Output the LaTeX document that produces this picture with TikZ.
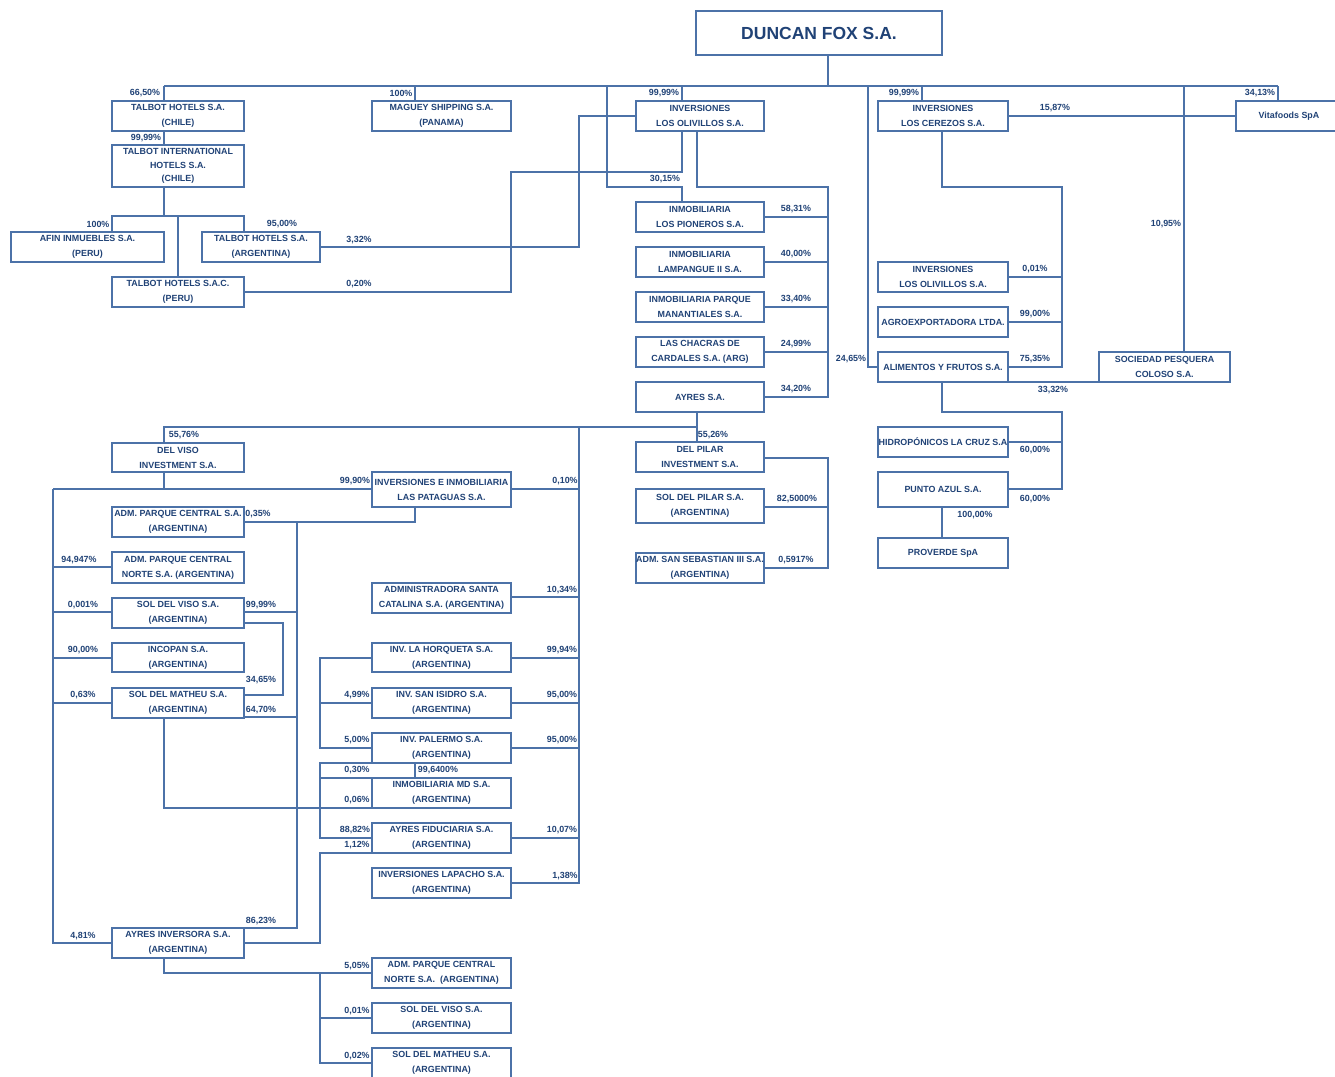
\documentclass[tikz,border=0pt]{standalone}
\usepackage{fontspec}
\setmainfont{Liberation Sans}
\definecolor{tc}{RGB}{32,66,118}
\definecolor{lc}{RGB}{76,114,168}
\newcommand\smallfnt{\bfseries\fontsize{8.9}{15}\selectfont}
\newcommand\bigfnt{\bfseries\fontsize{17.5}{20}\selectfont}
\newcommand\Bx[6]{\node[box,minimum width={#4-#2},minimum height={#5-#3}] (#1) at ({(#2+#4)/2},{(#3+#5)/2}) {#6};}
\newcommand\Pc[4]{\node[pct] (#1) at (#2,#3) {#4};}
\begin{document}
\begin{tikzpicture}[x=1pt,y=-1pt,
 box/.style={draw=lc, line width=1.3pt, inner sep=0pt, align=center, font=\smallfnt, text=tc},
 pct/.style={font=\smallfnt, text=tc, inner sep=0pt},
 ln/.style={draw=lc, line width=1.1pt}]
\clip (0,0) rectangle (1335,1076);
\fill[white] (0,0) rectangle (1335,1076);

% ---------- connectors ----------
\draw[ln] (828,55) -- (828,86);
\draw[ln] (164,86) -- (1278,86);
\draw[ln] (164,86) -- (164,101);
\draw[ln] (415,86) -- (415,101);
\draw[ln] (607,86) -- (607,187) -- (682,187) -- (682,202);
\draw[ln] (682,86) -- (682,101);
\draw[ln] (868,86) -- (868,367) -- (878,367);
\draw[ln] (922,86) -- (922,101);
\draw[ln] (1184,86) -- (1184,352);
\draw[ln] (1278,86) -- (1278,101);
\draw[ln] (1008,116) -- (1236,116);
\draw[ln] (164,131) -- (164,145);
\draw[ln] (164,187) -- (164,216);
\draw[ln] (112,232) -- (112,216) -- (244,216) -- (244,232);
\draw[ln] (178,216) -- (178,277);
\draw[ln] (320,247) -- (579,247) -- (579,116) -- (636,116);
\draw[ln] (244,292) -- (511,292) -- (511,172) -- (682,172) -- (682,131);
\draw[ln] (697,131) -- (697,187) -- (828,187) -- (828,397) -- (764,397);
\foreach \yy in {217,262,307,352} \draw[ln] (764,\yy) -- (828,\yy);
\draw[ln] (942,131) -- (942,187) -- (1062,187) -- (1062,367) -- (1008,367);
\foreach \yy in {277,322} \draw[ln] (1008,\yy) -- (1062,\yy);
\draw[ln] (1008,382) -- (1099,382);
\draw[ln] (942,382) -- (942,412) -- (1062,412) -- (1062,489) -- (1008,489);
\draw[ln] (1008,442) -- (1062,442);
\draw[ln] (942,507) -- (942,538);
\draw[ln] (697,412) -- (697,442);
\draw[ln] (164,443) -- (164,427) -- (697,427);
\draw[ln] (764,458) -- (828,458) -- (828,568) -- (764,568);
\draw[ln] (764,507) -- (828,507);
\draw[ln] (579,427) -- (579,883) -- (511,883);
\foreach \yy in {489,597,658,703,748,838} \draw[ln] (511,\yy) -- (579,\yy);
\draw[ln] (164,472) -- (164,489);
\draw[ln] (53,489) -- (372,489);
\draw[ln] (53,489) -- (53,943) -- (112,943);
\foreach \yy in {567,612,658,703} \draw[ln] (53,\yy) -- (112,\yy);
\draw[ln] (415,507) -- (415,522) -- (244,522);
\draw[ln] (297,522) -- (297,928) -- (244,928);
\foreach \yy in {612,717} \draw[ln] (244,\yy) -- (297,\yy);
\draw[ln] (244,623) -- (283,623) -- (283,695) -- (244,695);
\draw[ln] (164,718) -- (164,808) -- (372,808);
\draw[ln] (372,658) -- (320,658) -- (320,748) -- (372,748);
\draw[ln] (320,703) -- (372,703);
\draw[ln] (415,778) -- (415,763) -- (320,763) -- (320,838) -- (372,838);
\draw[ln] (320,778) -- (372,778);
\draw[ln] (244,943) -- (320,943) -- (320,853) -- (372,853);
\draw[ln] (164,958) -- (164,973) -- (372,973);
\draw[ln] (320,973) -- (320,1063) -- (372,1063);
\draw[ln] (320,1018) -- (372,1018);

% ---------- boxes ----------
\node[box,font=\bigfnt,minimum width=246,minimum height=44] (df) at (819,33) {DUNCAN FOX S.A.};
\Bx{thc}{112}{101}{244}{131}{TALBOT HOTELS S.A.\\(CHILE)}
\Bx{mag}{372}{101}{511}{131}{MAGUEY SHIPPING S.A.\\(PANAMA)}
\Bx{oli}{636}{101}{764}{131}{INVERSIONES\\LOS OLIVILLOS S.A.}
\Bx{cer}{878}{101}{1008}{131}{INVERSIONES\\LOS CEREZOS S.A.}
\Bx{vit}{1236}{101}{1342}{131}{Vitafoods SpA}
\node[box,minimum width=132,minimum height=42,font=\bfseries\fontsize{8.9}{13.5}\selectfont] (tint) at (178,166) {TALBOT INTERNATIONAL\\HOTELS S.A.\\(CHILE)};
\Bx{afin}{11}{232}{164}{262}{AFIN INMUEBLES S.A.\\(PERU)}
\Bx{tha}{202}{232}{320}{262}{TALBOT HOTELS S.A.\\(ARGENTINA)}
\Bx{tsac}{112}{277}{244}{307}{TALBOT HOTELS S.A.C.\\(PERU)}
\Bx{pio}{636}{202}{764}{232}{INMOBILIARIA\\LOS PIONEROS S.A.}
\Bx{lam}{636}{247}{764}{277}{INMOBILIARIA\\LAMPANGUE II S.A.}
\Bx{man}{636}{292}{764}{322}{INMOBILIARIA PARQUE\\MANANTIALES S.A.}
\Bx{cha}{636}{337}{764}{367}{LAS CHACRAS DE\\CARDALES S.A. (ARG)}
\Bx{ayr}{636}{382}{764}{412}{AYRES S.A.}
\Bx{oli2}{878}{262}{1008}{292}{INVERSIONES\\LOS OLIVILLOS S.A.}
\Bx{agr}{878}{307}{1008}{337}{AGROEXPORTADORA LTDA.}
\Bx{ali}{878}{352}{1008}{382}{ALIMENTOS Y FRUTOS S.A.}
\Bx{col}{1099}{352}{1230}{382}{SOCIEDAD PESQUERA\\COLOSO S.A.}
\Bx{hid}{878}{427}{1008}{457}{HIDROPÓNICOS LA CRUZ S.A}
\Bx{pun}{878}{472}{1008}{507}{PUNTO AZUL S.A.}
\Bx{pro}{878}{538}{1008}{568}{PROVERDE SpA}
\Bx{dpi}{636}{442}{764}{472}{DEL PILAR\\INVESTMENT S.A.}
\Bx{spi}{636}{489}{764}{523}{SOL DEL PILAR S.A.\\(ARGENTINA)}
\Bx{ass}{636}{553}{764}{583}{ADM. SAN SEBASTIAN III S.A.\\(ARGENTINA)}
\Bx{dvi}{112}{443}{244}{472}{DEL VISO\\INVESTMENT S.A.}
\Bx{pat}{372}{472}{511}{507}{INVERSIONES E INMOBILIARIA\\LAS PATAGUAS S.A.}
\Bx{apc}{112}{507}{244}{537}{ADM. PARQUE CENTRAL S.A.\\(ARGENTINA)}
\Bx{apn}{112}{552}{244}{583}{ADM. PARQUE CENTRAL\\NORTE S.A. (ARGENTINA)}
\Bx{sdv}{112}{598}{244}{628}{SOL DEL VISO S.A.\\(ARGENTINA)}
\Bx{inc}{112}{643}{244}{672}{INCOPAN S.A.\\(ARGENTINA)}
\Bx{sdm}{112}{688}{244}{718}{SOL DEL MATHEU S.A.\\(ARGENTINA)}
\Bx{ain}{112}{928}{244}{958}{AYRES INVERSORA S.A.\\(ARGENTINA)}
\Bx{stc}{372}{583}{511}{613}{ADMINISTRADORA SANTA\\CATALINA S.A. (ARGENTINA)}
\Bx{hor}{372}{643}{511}{672}{INV. LA HORQUETA S.A.\\(ARGENTINA)}
\Bx{sis}{372}{688}{511}{718}{INV. SAN ISIDRO S.A.\\(ARGENTINA)}
\Bx{pal}{372}{733}{511}{763}{INV. PALERMO S.A.\\(ARGENTINA)}
\Bx{imd}{372}{778}{511}{808}{INMOBILIARIA MD S.A.\\(ARGENTINA)}
\Bx{fid}{372}{823}{511}{853}{AYRES FIDUCIARIA S.A.\\(ARGENTINA)}
\Bx{lap}{372}{868}{511}{898}{INVERSIONES LAPACHO S.A.\\(ARGENTINA)}
\Bx{apn2}{372}{958}{511}{988}{ADM. PARQUE CENTRAL\\NORTE S.A.~~(ARGENTINA)}
\Bx{sdv2}{372}{1003}{511}{1033}{SOL DEL VISO S.A.\\(ARGENTINA)}
\Bx{sdm2}{372}{1048}{511}{1078}{SOL DEL MATHEU S.A.\\(ARGENTINA)}

% ---------- percentages ----------
\Pc{p1}{145}{93}{66,50\%}
\Pc{p2}{401}{93}{100\%}
\Pc{p3}{664}{93}{99,99\%}
\Pc{p4}{904}{93}{99,99\%}
\Pc{p5}{1260}{93}{34,13\%}
\Pc{p6}{146}{138}{99,99\%}
\Pc{p7}{98}{224}{100\%}
\Pc{p8}{282}{224}{95,00\%}
\Pc{p9}{359}{240}{3,32\%}
\Pc{p10}{359}{284}{0,20\%}
\Pc{p11}{665}{179}{30,15\%}
\Pc{p12}{796}{209}{58,31\%}
\Pc{p13}{796}{254}{40,00\%}
\Pc{p14}{796}{299}{33,40\%}
\Pc{p15}{796}{344}{24,99\%}
\Pc{p16}{796}{389}{34,20\%}
\Pc{p17}{851}{359}{24,65\%}
\Pc{p18}{1055}{108}{15,87\%}
\Pc{p19}{1166}{224}{10,95\%}
\Pc{p20}{1035}{269}{0,01\%}
\Pc{p21}{1035}{314}{99,00\%}
\Pc{p22}{1035}{359}{75,35\%}
\Pc{p23}{1053}{390}{33,32\%}
\Pc{p24}{1035}{450}{60,00\%}
\Pc{p25}{1035}{499}{60,00\%}
\Pc{p26}{975}{515}{100,00\%}
\Pc{p27}{713}{435}{55,26\%}
\Pc{p28}{797}{499}{82,5000\%}
\Pc{p29}{796}{560}{0,5917\%}
\Pc{p30}{184}{435}{55,76\%}
\Pc{p31}{355}{481}{99,90\%}
\Pc{p32}{565}{481}{0,10\%}
\Pc{p33}{258}{514}{0,35\%}
\Pc{p34}{79}{560}{94,947\%}
\Pc{p35}{83}{605}{0,001\%}
\Pc{p36}{261}{605}{99,99\%}
\Pc{p37}{83}{650}{90,00\%}
\Pc{p38}{261}{680}{34,65\%}
\Pc{p39}{83}{695}{0,63\%}
\Pc{p40}{261}{710}{64,70\%}
\Pc{p41}{562}{590}{10,34\%}
\Pc{p42}{562}{650}{99,94\%}
\Pc{p43}{357}{695}{4,99\%}
\Pc{p44}{562}{695}{95,00\%}
\Pc{p45}{357}{740}{5,00\%}
\Pc{p46}{562}{740}{95,00\%}
\Pc{p47}{357}{770}{0,30\%}
\Pc{p48}{438}{770}{99,6400\%}
\Pc{p49}{357}{800}{0,06\%}
\Pc{p50}{355}{830}{88,82\%}
\Pc{p51}{562}{830}{10,07\%}
\Pc{p52}{357}{845}{1,12\%}
\Pc{p53}{565}{876}{1,38\%}
\Pc{p54}{261}{921}{86,23\%}
\Pc{p55}{83}{936}{4,81\%}
\Pc{p56}{357}{966}{5,05\%}
\Pc{p57}{357}{1011}{0,01\%}
\Pc{p58}{357}{1056}{0,02\%}
\end{tikzpicture}
\end{document}
